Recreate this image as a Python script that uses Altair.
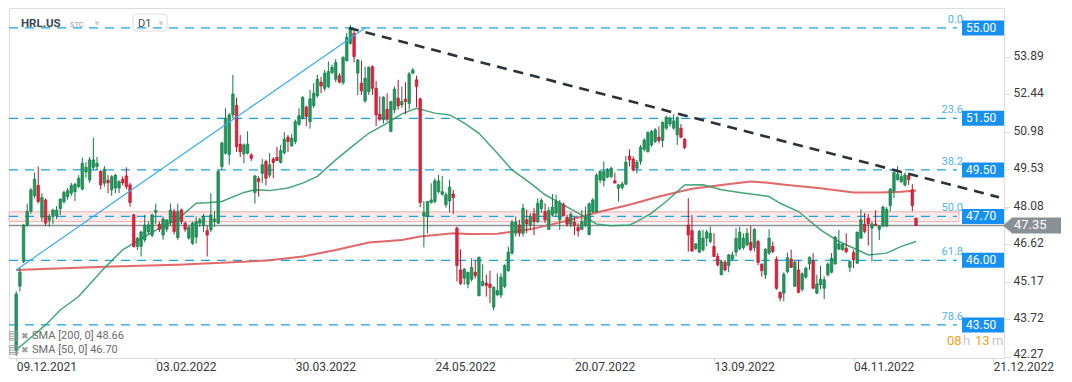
import altair as alt
import pandas as pd

# ---------------- data ----------------
opens = [42.5, 45.0, 45.95, 47.37, 47.9, 48.5, 48.9, 47.67, 48.34, 47.55,
         47.7, 47.72, 48.0, 48.27, 48.47, 48.6, 48.66, 48.86, 48.76, 49.42,
         49.11, 49.6, 49.63, 49.44, 48.99, 49.1, 48.73, 48.8, 48.8, 49.14,
         49.27, 48.92, 47.76, 46.54, 46.54, 46.8, 47.1, 46.97, 47.86, 47.4,
         46.98, 47.21, 47.48, 47.89, 46.88, 47.95, 47.44, 46.86, 46.66, 46.9,
         47.44, 47.34, 47.15, 47.18, 47.5, 47.44, 49.63, 50.15, 50.1, 51.63,
         52.0, 50.5, 50.12, 50.15, 50.08, 48.63, 49.16, 49.37, 49.83, 49.3,
         49.92, 49.99, 49.79, 50.17, 50.77, 50.43, 50.6, 51.27, 51.5, 51.93,
         51.37, 51.99, 52.37, 52.9, 52.66, 52.73, 53.27, 53.01, 53.15, 52.88,
         53.73, 54.4, 54.79, 53.25, 52.86, 52.17, 52.54, 53.5, 52.66, 51.66,
         51.44, 51.85, 50.99, 51.83, 52.28, 52.02, 52.24, 52.08, 53.25, 52.99,
         52.25, 47.72, 47.7, 48.24, 48.28, 48.66, 48.56, 48.15, 48.3, 48.57,
         47.25, 45.63, 45.31, 45.08, 45.27, 45.54, 44.64, 45.03, 45.12, 45.08,
         44.19, 44.66, 44.66, 44.99, 45.6, 46.28, 47.05, 47.37, 47.05, 47.57,
         47.37, 47.8, 47.5, 48.0, 47.89, 47.2, 47.76, 47.83, 47.57, 48.15,
         47.66, 47.4, 47.48, 47.28, 47.2, 47.35, 47.0, 47.89, 47.89, 49.11,
         49.09, 49.22, 49.25, 49.08, 48.79, 48.82, 48.95, 50.04, 49.92, 49.57,
         49.83, 50.3, 50.21, 50.47, 50.6, 50.77, 50.64, 51.12, 51.28, 51.12,
         50.86, 51.12, 50.69, 47.37, 47.15, 46.45, 46.32, 46.41, 46.86, 46.73,
         46.54, 46.15, 45.44, 45.93, 45.8, 46.05, 46.32, 46.45, 46.5, 46.6,
         46.7, 46.5, 46.73, 45.85, 45.44, 46.28, 46.54, 46.05, 44.76, 44.73,
         45.57, 46.05, 45.0, 45.63, 44.88, 45.35, 45.86, 45.98, 44.73, 45.05,
         44.92, 45.44, 45.54, 45.86, 46.43, 46.41, 46.47, 45.73, 46.3, 45.89,
         46.86, 47.4, 47.63, 47.25, 47.41, 47.2, 47.33, 47.33, 48.12, 48.7,
         49.12, 49.05, 48.92, 49.28, 48.73, 47.63]
highs = [44.8, 45.7, 47.4, 48.2, 48.8, 49.4, 49.63, 48.6, 48.4, 47.8,
         48.0, 48.1, 48.4, 48.7, 48.8, 49.0, 49.0, 49.3, 49.98, 49.8,
         50.0, 50.75, 50.0, 49.5, 49.65, 49.3, 49.3, 49.35, 49.1, 49.25,
         49.6, 49.0, 47.8, 46.9, 47.15, 47.76, 47.5, 47.8, 48.2, 47.5,
         47.7, 47.6, 48.2, 48.0, 48.2, 48.0, 47.5, 47.35, 47.5, 47.7,
         47.65, 47.8, 47.35, 48.6, 47.9, 49.5, 50.6, 51.89, 51.7, 53.18,
         52.3, 50.85, 50.53, 51.0, 50.15, 49.3, 49.25, 49.92, 49.9, 50.15,
         50.0, 50.4, 50.47, 50.96, 50.85, 50.9, 51.45, 51.89, 52.35, 52.0,
         52.6, 52.86, 53.18, 53.1, 53.37, 53.7, 53.58, 53.79, 53.25, 53.9,
         54.8, 55.12, 54.9, 53.78, 53.73, 53.5, 53.5, 53.55, 52.95, 52.35,
         52.35, 52.47, 52.15, 52.73, 52.99, 52.73, 52.9, 53.3, 53.45, 53.15,
         52.3, 48.3, 48.3, 48.98, 49.18, 49.31, 49.27, 48.63, 49.12, 48.73,
         47.3, 46.43, 45.7, 45.56, 46.08, 46.0, 46.15, 45.85, 45.45, 45.6,
         44.99, 45.5, 45.5, 45.85, 46.53, 47.57, 47.7, 47.57, 48.19, 47.97,
         47.83, 48.02, 48.4, 48.41, 48.21, 48.06, 48.57, 48.54, 48.34, 48.24,
         47.76, 47.86, 47.7, 47.44, 47.95, 48.08, 48.24, 48.41, 49.37, 49.5,
         49.83, 49.57, 49.63, 49.4, 48.96, 49.05, 50.04, 50.3, 50.02, 49.89,
         50.47, 50.73, 50.99, 51.05, 51.12, 51.18, 51.37, 51.6, 51.57, 51.66,
         51.57, 51.28, 50.73, 48.41, 47.76, 46.66, 47.18, 47.18, 47.18, 47.31,
         47.05, 46.28, 46.02, 46.02, 46.25, 46.34, 47.25, 47.3, 47.05, 47.25,
         47.33, 47.25, 46.8, 45.89, 46.47, 47.2, 46.73, 46.15, 44.8, 45.54,
         46.3, 46.41, 45.98, 46.02, 45.54, 45.76, 46.15, 46.28, 45.44, 45.79,
         45.38, 45.92, 46.28, 46.95, 47.18, 46.66, 47.05, 45.99, 46.41, 47.12,
         47.98, 47.83, 47.79, 47.5, 47.94, 47.37, 48.12, 48.06, 48.8, 49.44,
         49.65, 49.44, 49.4, 49.37, 48.95, 47.65]
lows = [42.3, 44.8, 45.9, 47.3, 47.8, 48.4, 48.2, 47.5, 47.34, 47.3,
        47.4, 47.6, 47.75, 48.2, 48.35, 48.5, 48.3, 48.8, 48.7, 49.2,
        49.0, 49.5, 49.5, 48.75, 48.85, 48.6, 48.5, 48.6, 48.6, 48.9,
        48.75, 48.08, 46.5, 46.4, 46.15, 46.7, 47.0, 46.9, 47.4, 47.1,
        46.8, 47.1, 47.35, 47.0, 46.8, 47.4, 47.1, 46.8, 46.6, 46.65,
        47.3, 47.1, 46.15, 47.1, 47.3, 47.4, 49.5, 50.1, 49.7, 51.5,
        50.2, 50.0, 49.76, 50.1, 49.85, 48.2, 48.47, 48.99, 48.9, 49.2,
        49.18, 49.9, 49.75, 50.1, 50.2, 50.4, 50.5, 51.2, 51.45, 51.2,
        51.1, 51.9, 52.3, 52.47, 52.55, 52.66, 53.2, 52.9, 52.85, 52.8,
        53.7, 54.35, 53.66, 52.4, 52.4, 52.1, 52.4, 52.4, 51.2, 51.4,
        51.3, 51.37, 50.99, 51.7, 51.83, 51.9, 51.66, 51.83, 53.2, 51.93,
        48.06, 46.5, 47.05, 48.2, 48.2, 48.6, 48.5, 48.05, 47.85, 47.8,
        45.18, 45.05, 45.05, 44.92, 45.18, 45.3, 44.6, 44.99, 44.6, 44.34,
        44.06, 44.63, 44.54, 44.92, 45.56, 46.22, 46.92, 46.92, 46.92, 47.05,
        47.18, 46.97, 47.44, 47.85, 47.44, 47.18, 47.7, 47.7, 47.18, 47.7,
        47.31, 47.28, 46.98, 46.92, 47.18, 47.28, 46.97, 47.83, 47.83, 48.99,
        48.86, 49.18, 49.18, 48.99, 48.28, 48.73, 48.92, 49.63, 49.44, 49.37,
        49.7, 50.21, 50.17, 50.4, 50.54, 50.53, 50.38, 51.05, 51.18, 51.05,
        50.47, 50.73, 50.3, 46.34, 46.34, 46.41, 46.28, 46.34, 46.54, 46.66,
        46.12, 45.76, 45.44, 45.57, 45.54, 45.98, 46.15, 46.38, 46.41, 46.54,
        46.34, 46.34, 45.82, 45.37, 45.28, 46.21, 46.28, 44.86, 44.41, 44.41,
        45.5, 45.7, 44.97, 44.73, 44.79, 45.28, 45.63, 44.88, 44.69, 44.88,
        44.5, 45.37, 45.5, 45.83, 46.41, 46.38, 46.28, 45.54, 45.7, 45.86,
        46.83, 47.05, 46.57, 45.95, 47.33, 46.79, 47.28, 47.28, 47.89, 48.41,
        49.09, 49.0, 48.86, 48.92, 47.9, 47.35]
closes = [44.7, 45.55, 47.37, 47.9, 48.73, 49.14, 48.28, 48.43, 47.44, 47.7,
          47.95, 47.95, 48.37, 48.63, 48.7, 48.9, 48.95, 49.18, 49.76, 49.6,
          49.89, 49.89, 49.76, 48.92, 49.53, 49.0, 49.24, 49.3, 49.05, 49.0,
          48.86, 48.24, 46.53, 46.86, 47.1, 47.37, 47.37, 47.76, 47.93, 47.2,
          47.6, 47.56, 47.95, 47.12, 47.89, 47.5, 47.2, 47.28, 47.44, 47.5,
          47.57, 47.7, 46.98, 47.76, 47.6, 49.44, 50.54, 51.5, 51.63, 52.44,
          50.4, 50.2, 50.47, 50.5, 49.95, 49.27, 49.05, 49.7, 49.18, 49.7,
          49.79, 49.86, 50.25, 50.69, 50.6, 50.73, 51.37, 51.6, 52.32, 51.57,
          52.25, 52.47, 53.01, 52.75, 53.25, 53.31, 53.48, 53.66, 52.9, 53.86,
          54.64, 54.99, 53.89, 53.76, 52.56, 53.05, 53.48, 52.66, 51.63, 51.46,
          52.32, 51.46, 52.15, 52.63, 51.98, 52.15, 52.15, 53.22, 53.37, 52.73,
          48.24, 47.85, 48.28, 48.34, 49.08, 49.08, 48.66, 48.54, 48.83, 48.43,
          45.8, 45.1, 45.66, 45.54, 45.73, 45.41, 46.12, 45.18, 45.03, 44.95,
          44.96, 44.83, 45.35, 45.8, 46.32, 47.48, 47.48, 47.05, 48.02, 47.41,
          47.7, 47.5, 48.21, 48.32, 47.57, 47.93, 48.06, 48.28, 48.21, 47.72,
          47.4, 47.79, 47.35, 47.14, 47.5, 47.66, 48.19, 48.34, 49.3, 49.44,
          49.44, 49.5, 49.57, 48.99, 48.92, 48.96, 49.8, 49.89, 49.5, 49.8,
          50.38, 50.66, 50.95, 50.99, 51.05, 50.64, 51.35, 51.54, 51.5, 51.4,
          51.53, 50.77, 50.37, 46.98, 46.36, 46.64, 47.12, 46.86, 47.1, 47.05,
          46.15, 45.83, 45.95, 45.63, 46.21, 46.21, 46.86, 47.09, 46.86, 47.05,
          46.41, 47.2, 45.92, 45.6, 46.43, 46.86, 46.34, 44.92, 44.54, 45.46,
          46.1, 45.73, 45.93, 44.76, 45.48, 45.7, 46.12, 44.92, 45.09, 45.27,
          45.25, 45.86, 46.08, 46.9, 46.64, 46.62, 46.34, 45.95, 46.02, 47.09,
          47.57, 47.12, 47.41, 47.41, 47.35, 47.33, 48.06, 47.98, 48.76, 49.4,
          49.34, 49.24, 49.31, 49.12, 48.12, 47.35]

date_idx = [0, 38, 76, 114, 152, 190, 228, 266]
date_labels = ["09.12.2021", "03.02.2022", "30.03.2022", "24.05.2022",
               "20.07.2022", "13.09.2022", "04.11.2022", "21.12.2022"]
price_ticks = [53.89, 52.44, 50.98, 49.53, 48.08, 46.62, 45.17, 43.72, 42.27]

sma200_idx = [0, 26, 44, 62, 69, 78, 87, 96, 105, 110, 119, 123, 131, 140, 149,
              158, 167, 175, 184, 192, 200, 204, 210, 219, 228, 235, 241, 245]
sma200_val = [45.63, 45.76, 45.83, 45.95, 46.0, 46.15, 46.4, 46.69, 46.79, 46.92,
              47.05, 47.02, 47.03, 47.2, 47.5, 47.85, 48.15, 48.47, 48.77, 48.92,
              49.05, 49.01, 48.92, 48.79, 48.63, 48.63, 48.66, 48.7]
sma50_idx = [0, 8, 12, 17, 24, 29, 35, 39, 44, 49, 52, 56, 62, 65, 69, 74, 78, 82,
             87, 92, 96, 101, 105, 109, 114, 118, 121, 123, 126, 131, 135, 140,
             144, 149, 153, 158, 162, 167, 169, 173, 177, 182, 187, 192, 197,
             205, 208, 213, 219, 224, 229, 232, 237, 241, 245]
sma50_val = [42.53, 43.5, 44.08, 44.6, 45.7, 46.41, 46.92, 47.25, 47.59, 48.21,
             48.23, 48.28, 48.63, 48.73, 48.7, 48.8, 48.99, 49.25, 49.89, 50.47,
             50.92, 51.31, 51.67, 51.89, 51.7, 51.63, 51.4, 51.22, 50.92, 50.15,
             49.5, 48.99, 48.54, 48.15, 47.83, 47.41, 47.34, 47.37, 47.5, 47.83,
             48.28, 48.92, 48.93, 48.73, 48.63, 48.47, 48.21, 47.89, 47.18, 46.73,
             46.41, 46.21, 46.28, 46.54, 46.73]

fib_levels = [55.00, 51.50, 49.50, 47.70, 46.00, 43.50]
fib_pcts = ["0.0", "23.6", "38.2", "50.0", "61.8", "78.6"]
zone_low = [47.50]
zone_high = [47.88]
last_price = [47.35]
rise_idx = [0, 95]
rise_val = [45.63, 55.00]
fall_idx = [90.6, 267.6]
fall_val = [55.00, 48.44]

# ---------------- tables ----------------
candles = pd.DataFrame({"i": list(range(len(opens))), "o": opens, "h": highs,
                        "l": lows, "c": closes})
candles["dir"] = ["up" if c >= o else "down" for o, c in zip(opens, closes)]
sma200 = pd.DataFrame({"i": sma200_idx, "v": sma200_val})
sma50 = pd.DataFrame({"i": sma50_idx, "v": sma50_val})
fib = pd.DataFrame({"level": fib_levels, "pct": fib_pcts})
zone = pd.DataFrame({"lo": zone_low, "hi": zone_high})
last = pd.DataFrame({"p": last_price})
rise = pd.DataFrame({"i": rise_idx, "v": rise_val})
fall = pd.DataFrame({"i": fall_idx, "v": fall_val})
one = pd.DataFrame({"k": [0]})

FONT = "Roboto"
xs = alt.Scale(domain=[-0.6, 267.6], nice=False, zero=False)
ys = alt.Scale(domain=[42.22, 55.77], nice=False, zero=False)

label_expr = "[" + ",".join("'%s'" % d for d in date_labels) + "][round(datum.value/38)]"
x_axis = alt.Axis(values=date_idx, labelExpr=label_expr, title=None, grid=False,
                  domain=False, tickSize=3, tickColor="#cccccc", labelAlign="left",
                  labelPadding=0, labelFontSize=12, labelColor="#3a3a3a",
                  labelFont=FONT, labelOverlap=False)
y_axis = alt.Axis(orient="right", values=price_ticks, format=".2f", title=None,
                  grid=False, domain=False, tickSize=6, tickColor="#dddddd",
                  labelPadding=3, labelFontSize=12, labelColor="#3a3a3a",
                  labelFont=FONT, labelOverlap=False,
                  labelOffset={"condition": {"test": "datum.value < 43", "value": -3.5},
                               "value": -1.5})


def X(field):
    return alt.X(field, scale=xs, axis=x_axis)


def Y(field):
    return alt.Y(field, scale=ys, axis=y_axis)


fill_scale = alt.Scale(domain=["up", "down"], range=["#20985e", "#e0233c"])
stroke_scale = alt.Scale(domain=["up", "down"], range=["#137845", "#b5142c"])

zone_layer = alt.Chart(zone).mark_rect(fill="#fdeaea", stroke="#f3adad",
                                       strokeWidth=1).encode(
    y=Y("lo:Q"), y2="hi:Q", x=alt.value(0), x2=alt.value(950))

fib_rules = alt.Chart(fib).mark_rule(stroke="#1aa3ea", strokeWidth=1.2,
                                     strokeDash=[9, 7]).encode(
    y=Y("level:Q"), x=alt.value(0), x2=alt.value(948))

last_rule = alt.Chart(last).mark_rule(stroke="#8a9094", strokeWidth=1.3).encode(
    y=Y("p:Q"), x=alt.value(0), x2=alt.value(995))

sma200_line = alt.Chart(sma200).mark_line(stroke="#e05858", strokeWidth=2,
                                          opacity=0.9).encode(x=X("i:Q"), y=Y("v:Q"))
sma50_line = alt.Chart(sma50).mark_line(stroke="#2f9d6c", strokeWidth=1.5,
                                        opacity=0.9).encode(x=X("i:Q"), y=Y("v:Q"))

wicks = alt.Chart(candles).mark_rule(strokeWidth=1).encode(
    x=X("i:Q"), y=Y("l:Q"), y2="h:Q",
    stroke=alt.Stroke("dir:N", scale=stroke_scale, legend=None))
bodies = alt.Chart(candles).mark_bar(size=2.6, strokeWidth=0.6).encode(
    x=X("i:Q"), y=Y("o:Q"), y2="c:Q",
    fill=alt.Fill("dir:N", scale=fill_scale, legend=None),
    stroke=alt.Stroke("dir:N", scale=stroke_scale, legend=None))

rise_line = alt.Chart(rise).mark_line(stroke="#35aef5", strokeWidth=1.2).encode(
    x=X("i:Q"), y=Y("v:Q"))
fall_line = alt.Chart(fall).mark_line(stroke="#2b3238", strokeWidth=2.6,
                                      strokeDash=[10, 7]).encode(x=X("i:Q"), y=Y("v:Q"))

fib_text = alt.Chart(fib).mark_text(align="right", baseline="alphabetic", dy=-5,
                                    fontSize=11, color="#4db6f0", font=FONT).encode(
    y=Y("level:Q"), x=alt.value(954), text="pct:N")
fib_box = alt.Chart(fib).mark_rect(fill="#1690f2", yOffset=-7.5, y2Offset=7.5).encode(
    y=Y("level:Q"), y2="level:Q", x=alt.value(953), x2=alt.value(995))
fib_box_text = alt.Chart(fib).mark_text(align="left", baseline="middle", fontSize=12,
                                        color="white", font=FONT).encode(
    y=Y("level:Q"), x=alt.value(957), text=alt.Text("level:Q", format=".2f"))

tag_path = "M -1 0 L -0.68 -0.276 L 1 -0.276 L 1 0.276 L -0.68 0.276 Z"
tag = alt.Chart(last).mark_point(shape=tag_path, size=3364, filled=True,
                                 color="#899196", opacity=1, strokeWidth=0).encode(
    y=Y("p:Q"), x=alt.value(1023))
tag_text = alt.Chart(last).mark_text(align="left", baseline="middle", fontSize=13,
                                     color="white", font=FONT).encode(
    y=Y("p:Q"), x=alt.value(1005), text=alt.Text("p:Q", format=".2f"))


def label(txt, x, y, size, color, weight="normal", align="left"):
    return alt.Chart(one).mark_text(text=txt, align=align, baseline="alphabetic",
                                    fontSize=size, color=color, fontWeight=weight,
                                    font=FONT).encode(x=alt.value(x), y=alt.value(y))


d1_box = alt.Chart(one).mark_rect(fill="white", fillOpacity=0, stroke="#dcdcdc",
                                  strokeWidth=1, cornerRadius=3).encode(
    x=alt.value(124), x2=alt.value(158), y=alt.value(6), y2=alt.value(23))

ui = [
    d1_box,
    label("HRL.US", 12, 19, 11.5, "#3d4a56", "bold"),
    label("STC", 61, 19, 7.5, "#8fa0ad"),
    label("▼", 84, 18, 8, "#cccccc"),
    label("D1", 129, 19, 11, "#3d4a56"),
    label("▼", 148, 18, 8, "#cccccc"),
    label("▤", -1, 331, 12, "#9a9a9a"),
    label("✖", 12, 331, 9, "#9a9a9a"),
    label("SMA  [200,  0]  48.66", 23, 331, 11, "#6b6b6b"),
    label("▤", -1, 345, 12, "#9a9a9a"),
    label("✖", 12, 345, 9, "#9a9a9a"),
    label("SMA  [50,  0]  46.70", 23, 345, 11, "#6b6b6b"),
    label("08", 938, 337, 13, "#f5a21c"),
    label("h", 954, 337, 13, "#c3c7cb"),
    label("13", 966, 337, 13, "#f5a21c"),
    label("m", 983, 337, 13, "#c3c7cb"),
]

chart = alt.layer(
    zone_layer, fib_rules, last_rule, sma200_line, sma50_line, wicks, bodies,
    rise_line, fall_line, fib_text, fib_box, fib_box_text, tag, tag_text, *ui
).properties(width=995, height=350, padding=0, background="white").configure_view(
    stroke=None).configure(font=FONT)

chart.save("out.html", embed_options={"renderer": "svg", "actions": False})
